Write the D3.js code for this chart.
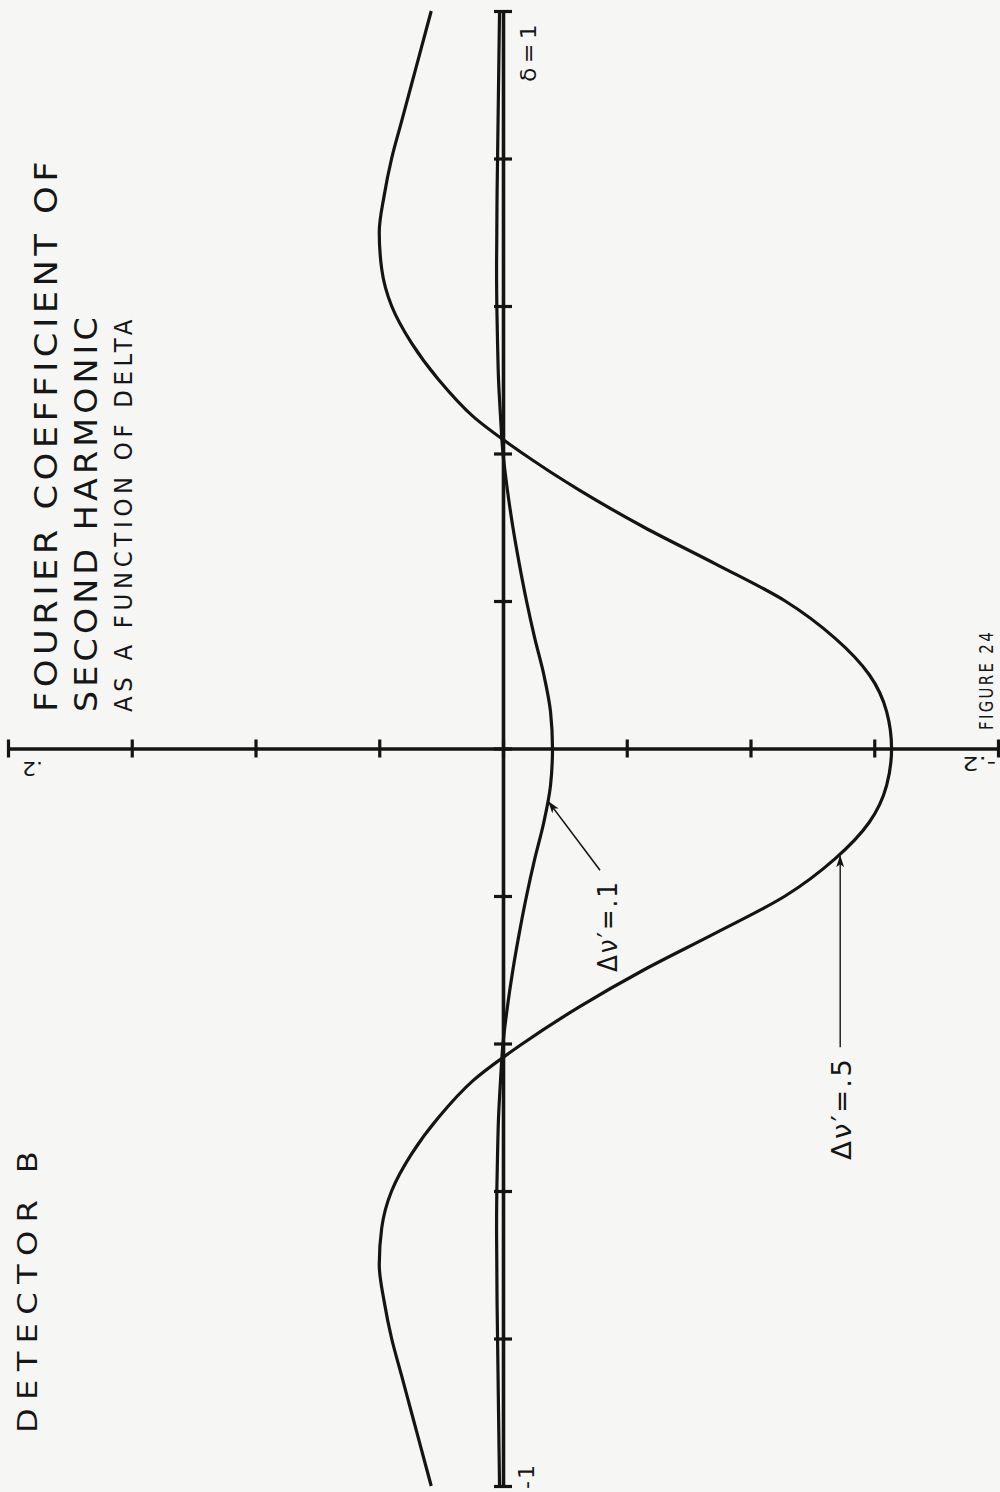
<!DOCTYPE html>
<html>
<head>
<meta charset="utf-8">
<script src="https://cdn.jsdelivr.net/npm/d3@7"></script>
<style>
  html, body { margin: 0; padding: 0; background: #f6f6f4; }
  svg { display: block; }
  text { font-family: "DejaVu Sans", "Liberation Sans", sans-serif; fill: #161616; }
</style>
</head>
<body>
<svg id="chart" width="1000" height="1492"></svg>
<script>
// delta (detector offset), sampled every 0.05 from -1 to 1
const deltaValues = [-1, -0.95, -0.9, -0.85, -0.8, -0.75, -0.7, -0.65, -0.6, -0.55, -0.5,
  -0.45, -0.4, -0.35, -0.3, -0.25, -0.2, -0.15, -0.1, -0.05, 0,
  0.05, 0.1, 0.15, 0.2, 0.25, 0.3, 0.35, 0.4, 0.45, 0.5,
  0.55, 0.6, 0.65, 0.7, 0.75, 0.8, 0.85, 0.9, 0.95, 1];

// second-harmonic Fourier coefficient, line width Δν' = .5
const coeffWide = [0.029, 0.033, 0.037, 0.041, 0.045, 0.048, 0.050, 0.049, 0.045, 0.037, 0.026,
  0.012, -0.008, -0.031, -0.057, -0.086, -0.114, -0.134, -0.148, -0.155, -0.157,
  -0.155, -0.148, -0.134, -0.114, -0.086, -0.057, -0.031, -0.008, 0.012, 0.026,
  0.037, 0.045, 0.049, 0.050, 0.048, 0.045, 0.041, 0.037, 0.033, 0.029];

// second-harmonic Fourier coefficient, line width Δν' = .1
const coeffNarrow = [0.0014, 0.0016, 0.0018, 0.0020, 0.0022, 0.0024, 0.0025, 0.0026, 0.0025, 0.0022, 0.0018,
  0.0010, 0.0000, -0.0018, -0.0040, -0.0066, -0.0095, -0.0128, -0.0165, -0.0192, -0.0200,
  -0.0192, -0.0165, -0.0128, -0.0095, -0.0066, -0.0040, -0.0018, 0.0000, 0.0010, 0.0018,
  0.0022, 0.0025, 0.0026, 0.0025, 0.0024, 0.0022, 0.0020, 0.0018, 0.0016, 0.0014];

const deltaTicks = [-1, -0.8, -0.6, -0.4, -0.2, 0, 0.2, 0.4, 0.6, 0.8, 1];
const coeffTicks = [0.2, 0.15, 0.1, 0.05, 0, -0.05, -0.1, -0.15, -0.2];

const svg = d3.select("#chart");
const ink = "#141414";

// the sheet is turned: delta runs up the page, the coefficient runs across it
const y = d3.scaleLinear().domain([-1, 1]).range([1486, 11]);
const x = d3.scaleLinear().domain([0.2, -0.2]).range([8, 998]);

// arrowhead for the curve labels
svg.append("defs").append("marker")
  .attr("id", "arrow")
  .attr("viewBox", "0 0 12 8")
  .attr("refX", 11).attr("refY", 4)
  .attr("markerWidth", 12).attr("markerHeight", 8)
  .attr("markerUnits", "userSpaceOnUse")
  .attr("orient", "auto")
  .append("path").attr("d", "M0,0 L12,4 L0,8 L3,4 Z").attr("fill", ink);

// delta axis (vertical, through coefficient = 0)
const deltaAxis = svg.append("g")
  .attr("transform", `translate(${x(0)},0)`)
  .call(d3.axisRight(y).tickValues(deltaTicks).tickSize(9).tickSizeOuter(0).tickFormat(""));
deltaAxis.select(".domain").attr("stroke", ink).attr("stroke-width", 3.6);
deltaAxis.selectAll(".tick line").attr("x1", -9).attr("x2", 9)
  .attr("stroke", ink).attr("stroke-width", 3.2);

// coefficient axis (horizontal, through delta = 0)
const coeffAxis = svg.append("g")
  .attr("transform", `translate(0,${y(0)})`)
  .call(d3.axisBottom(x).tickValues(coeffTicks).tickSize(9).tickSizeOuter(0).tickFormat(""));
coeffAxis.select(".domain").attr("stroke", ink).attr("stroke-width", 3.4);
coeffAxis.selectAll(".tick line").attr("y1", -9).attr("y2", 9)
  .attr("stroke", ink).attr("stroke-width", 3.2);

// curves
const line = (vals) => d3.line()
  .x((d, i) => x(vals[i]))
  .y(d => y(d))
  .curve(d3.curveMonotoneY)(deltaValues);

svg.append("path").attr("d", line(coeffWide))
  .attr("fill", "none").attr("stroke", ink).attr("stroke-width", 3.2);
svg.append("path").attr("d", line(coeffNarrow))
  .attr("fill", "none").attr("stroke", ink).attr("stroke-width", 3.2);

// lookup along each curve for the label arrows
const wideAt = d3.scaleLinear().domain(deltaValues).range(coeffWide);
const narrowAt = d3.scaleLinear().domain(deltaValues).range(coeffNarrow);

// Δν' = .1 leader
const tipN = -0.07;
svg.append("line")
  .attr("x1", x(-0.0392)).attr("y1", y(-0.165))
  .attr("x2", x(narrowAt(tipN)) + 1).attr("y2", y(tipN) + 2)
  .attr("stroke", ink).attr("stroke-width", 1.6)
  .attr("marker-end", "url(#arrow)");

// Δν' = .5 leader
const tipW = -0.142;
svg.append("line")
  .attr("x1", x(wideAt(tipW))).attr("y1", y(-0.405))
  .attr("x2", x(wideAt(tipW))).attr("y2", y(tipW) + 3)
  .attr("stroke", ink).attr("stroke-width", 1.4)
  .attr("marker-end", "url(#arrow)");

// rotated text: reads bottom-to-top, baseline on the right; glyphs widened
// to the run length like stencil lettering
function upText(txt, bx, by, size, len, spacing) {
  return svg.append("text")
    .attr("x", bx).attr("y", by)
    .attr("transform", `rotate(-90,${bx},${by})`)
    .attr("font-size", size)
    .style("letter-spacing", (spacing || 0) + "px")
    .attr("textLength", len).attr("lengthAdjust", "spacingAndGlyphs")
    .text(txt);
}
// upside-down text for the coefficient end labels
function flipText(txt, bx, by, size, len) {
  return svg.append("text")
    .attr("x", bx).attr("y", by)
    .attr("transform", `rotate(180,${bx},${by})`)
    .attr("font-size", size)
    .attr("textLength", len).attr("lengthAdjust", "spacingAndGlyphs")
    .text(txt);
}

// headings
upText("DETECTOR B", 37, 1433, 27, 290, 7);
upText("FOURIER COEFFICIENT OF", 57, 712, 32, 555, 4);
upText("SECOND HARMONIC", 97, 712, 32, 399, 4);
upText("AS A FUNCTION OF DELTA", 132, 712, 24, 397, 5);
upText("FIGURE 24", 993, 730, 19, 100, 3);

// axis end labels
upText("δ=1", 536, 82, 22, 62, 4);
upText("-1", 534, 1489, 22, 26, 2);
flipText(".2", 43, 762, 20, 21);
flipText("-.2", 996, 757, 20, 34);

// curve labels
upText("Δν′=.1", 617, 972, 26, 92, 2);
upText("Δν′=.5", 851, 1160, 26, 103, 2);
</script>
</body>
</html>
